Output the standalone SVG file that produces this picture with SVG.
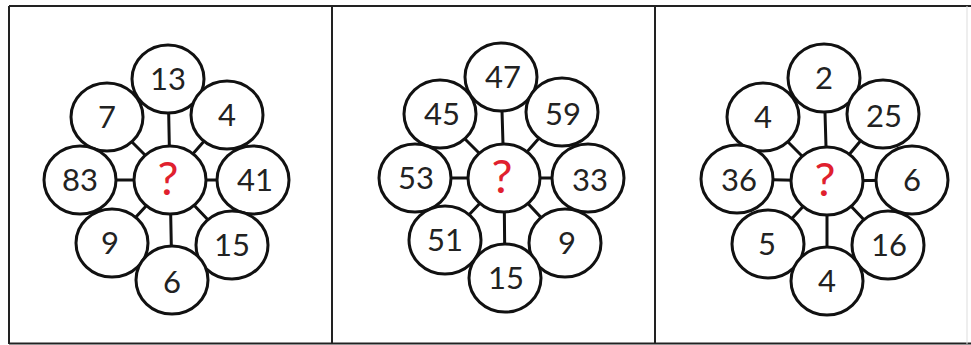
<svg xmlns="http://www.w3.org/2000/svg" width="971" height="345" viewBox="0 0 971 345">
<style>
.c{fill:#fff;stroke:#111;stroke-width:3}
.s{stroke:#111;stroke-width:3}
.t{font-family:Lato,"Open Sans",sans-serif;font-size:31px;fill:#222;text-anchor:middle}
.q{font-family:Lato,"Open Sans",sans-serif;font-size:47px;fill:#e0202e;text-anchor:middle}
.f{stroke:#222;stroke-width:2;fill:none}
</style>
<rect width="971" height="345" fill="#fff"/>
<g id="frame">
<line class="f" x1="9" y1="6" x2="971" y2="6"/>
<line class="f" x1="9" y1="6" x2="9" y2="344"/>
<line class="f" x1="9" y1="343.5" x2="971" y2="343.5"/>
<line class="f" x1="332" y1="6" x2="332" y2="344"/>
<line class="f" x1="655" y1="6" x2="655" y2="344"/>
<line x1="967" y1="6" x2="967" y2="344" stroke="#ddd" stroke-width="1"/>
</g>
<g id="connectors">
<path class="s" d="M170 180L168 79M170 180L107 117M170 180L227 115M170 180L80 180M170 180L253 180M170 180L112 243M170 180L232 245M170 180L172 280"/>
<path class="s" d="M504 178L501 77M504 178L440 114M504 178L562 112M504 178L415 178M504 178L588 178M504 178L445 240M504 178L565 243M504 178L505 278"/>
<path class="s" d="M827 181L824 78M827 181L763 117M827 181L883 114M827 181L737 179M827 181L912 180M827 181L768 244M827 181L888 245M827 181L827 281"/>
</g>
<g id="p1-13"><ellipse class="c" cx="168" cy="79" rx="36" ry="34"/><text class="t" x="168" y="90">13</text></g>
<g id="p1-7"><ellipse class="c" cx="107" cy="117" rx="36" ry="34"/><text class="t" x="107" y="128">7</text></g>
<g id="p1-4"><ellipse class="c" cx="227" cy="115" rx="36" ry="34"/><text class="t" x="227" y="126">4</text></g>
<g id="p1-83"><ellipse class="c" cx="80" cy="180" rx="36" ry="34"/><text class="t" x="80" y="191">83</text></g>
<g id="p1-41"><ellipse class="c" cx="253" cy="180" rx="36" ry="34"/><text class="t" x="255" y="191">41</text></g>
<g id="p1-9"><ellipse class="c" cx="112" cy="243" rx="36" ry="34"/><text class="t" x="110" y="254">9</text></g>
<g id="p1-15"><ellipse class="c" cx="232" cy="245" rx="36" ry="34"/><text class="t" x="232" y="256">15</text></g>
<g id="p1-6"><ellipse class="c" cx="172" cy="280" rx="36" ry="34"/><text class="t" x="172" y="293">6</text></g>
<g id="p1-q"><ellipse class="c" cx="170" cy="180" rx="36" ry="34"/><text class="q" x="168" y="195">?</text></g>

<g id="p2-47"><ellipse class="c" cx="501" cy="77" rx="36" ry="34"/><text class="t" x="503" y="88">47</text></g>
<g id="p2-45"><ellipse class="c" cx="440" cy="114" rx="36" ry="34"/><text class="t" x="442" y="125">45</text></g>
<g id="p2-59"><ellipse class="c" cx="562" cy="112" rx="36" ry="34"/><text class="t" x="563" y="125">59</text></g>
<g id="p2-53"><ellipse class="c" cx="415" cy="178" rx="36" ry="34"/><text class="t" x="416" y="189">53</text></g>
<g id="p2-33"><ellipse class="c" cx="588" cy="178" rx="36" ry="34"/><text class="t" x="590" y="191">33</text></g>
<g id="p2-51"><ellipse class="c" cx="445" cy="240" rx="36" ry="34"/><text class="t" x="445" y="251">51</text></g>
<g id="p2-9"><ellipse class="c" cx="565" cy="243" rx="36" ry="34"/><text class="t" x="567" y="254">9</text></g>
<g id="p2-15"><ellipse class="c" cx="505" cy="278" rx="36" ry="34"/><text class="t" x="506" y="289">15</text></g>
<g id="p2-q"><ellipse class="c" cx="504" cy="178" rx="36" ry="34"/><text class="q" x="502" y="193">?</text></g>

<g id="p3-2"><ellipse class="c" cx="824" cy="78" rx="36" ry="34"/><text class="t" x="824" y="89">2</text></g>
<g id="p3-4a"><ellipse class="c" cx="763" cy="117" rx="36" ry="34"/><text class="t" x="763" y="128">4</text></g>
<g id="p3-25"><ellipse class="c" cx="883" cy="114" rx="36" ry="34"/><text class="t" x="884" y="127">25</text></g>
<g id="p3-36"><ellipse class="c" cx="737" cy="179" rx="36" ry="34"/><text class="t" x="739" y="191">36</text></g>
<g id="p3-6"><ellipse class="c" cx="912" cy="180" rx="36" ry="34"/><text class="t" x="912" y="191">6</text></g>
<g id="p3-5"><ellipse class="c" cx="768" cy="244" rx="36" ry="34"/><text class="t" x="767" y="255">5</text></g>
<g id="p3-16"><ellipse class="c" cx="888" cy="245" rx="36" ry="34"/><text class="t" x="889" y="256">16</text></g>
<g id="p3-4b"><ellipse class="c" cx="827" cy="281" rx="36" ry="34"/><text class="t" x="827" y="292">4</text></g>
<g id="p3-q"><ellipse class="c" cx="827" cy="181" rx="36" ry="34"/><text class="q" x="825" y="196">?</text></g>
</svg>
